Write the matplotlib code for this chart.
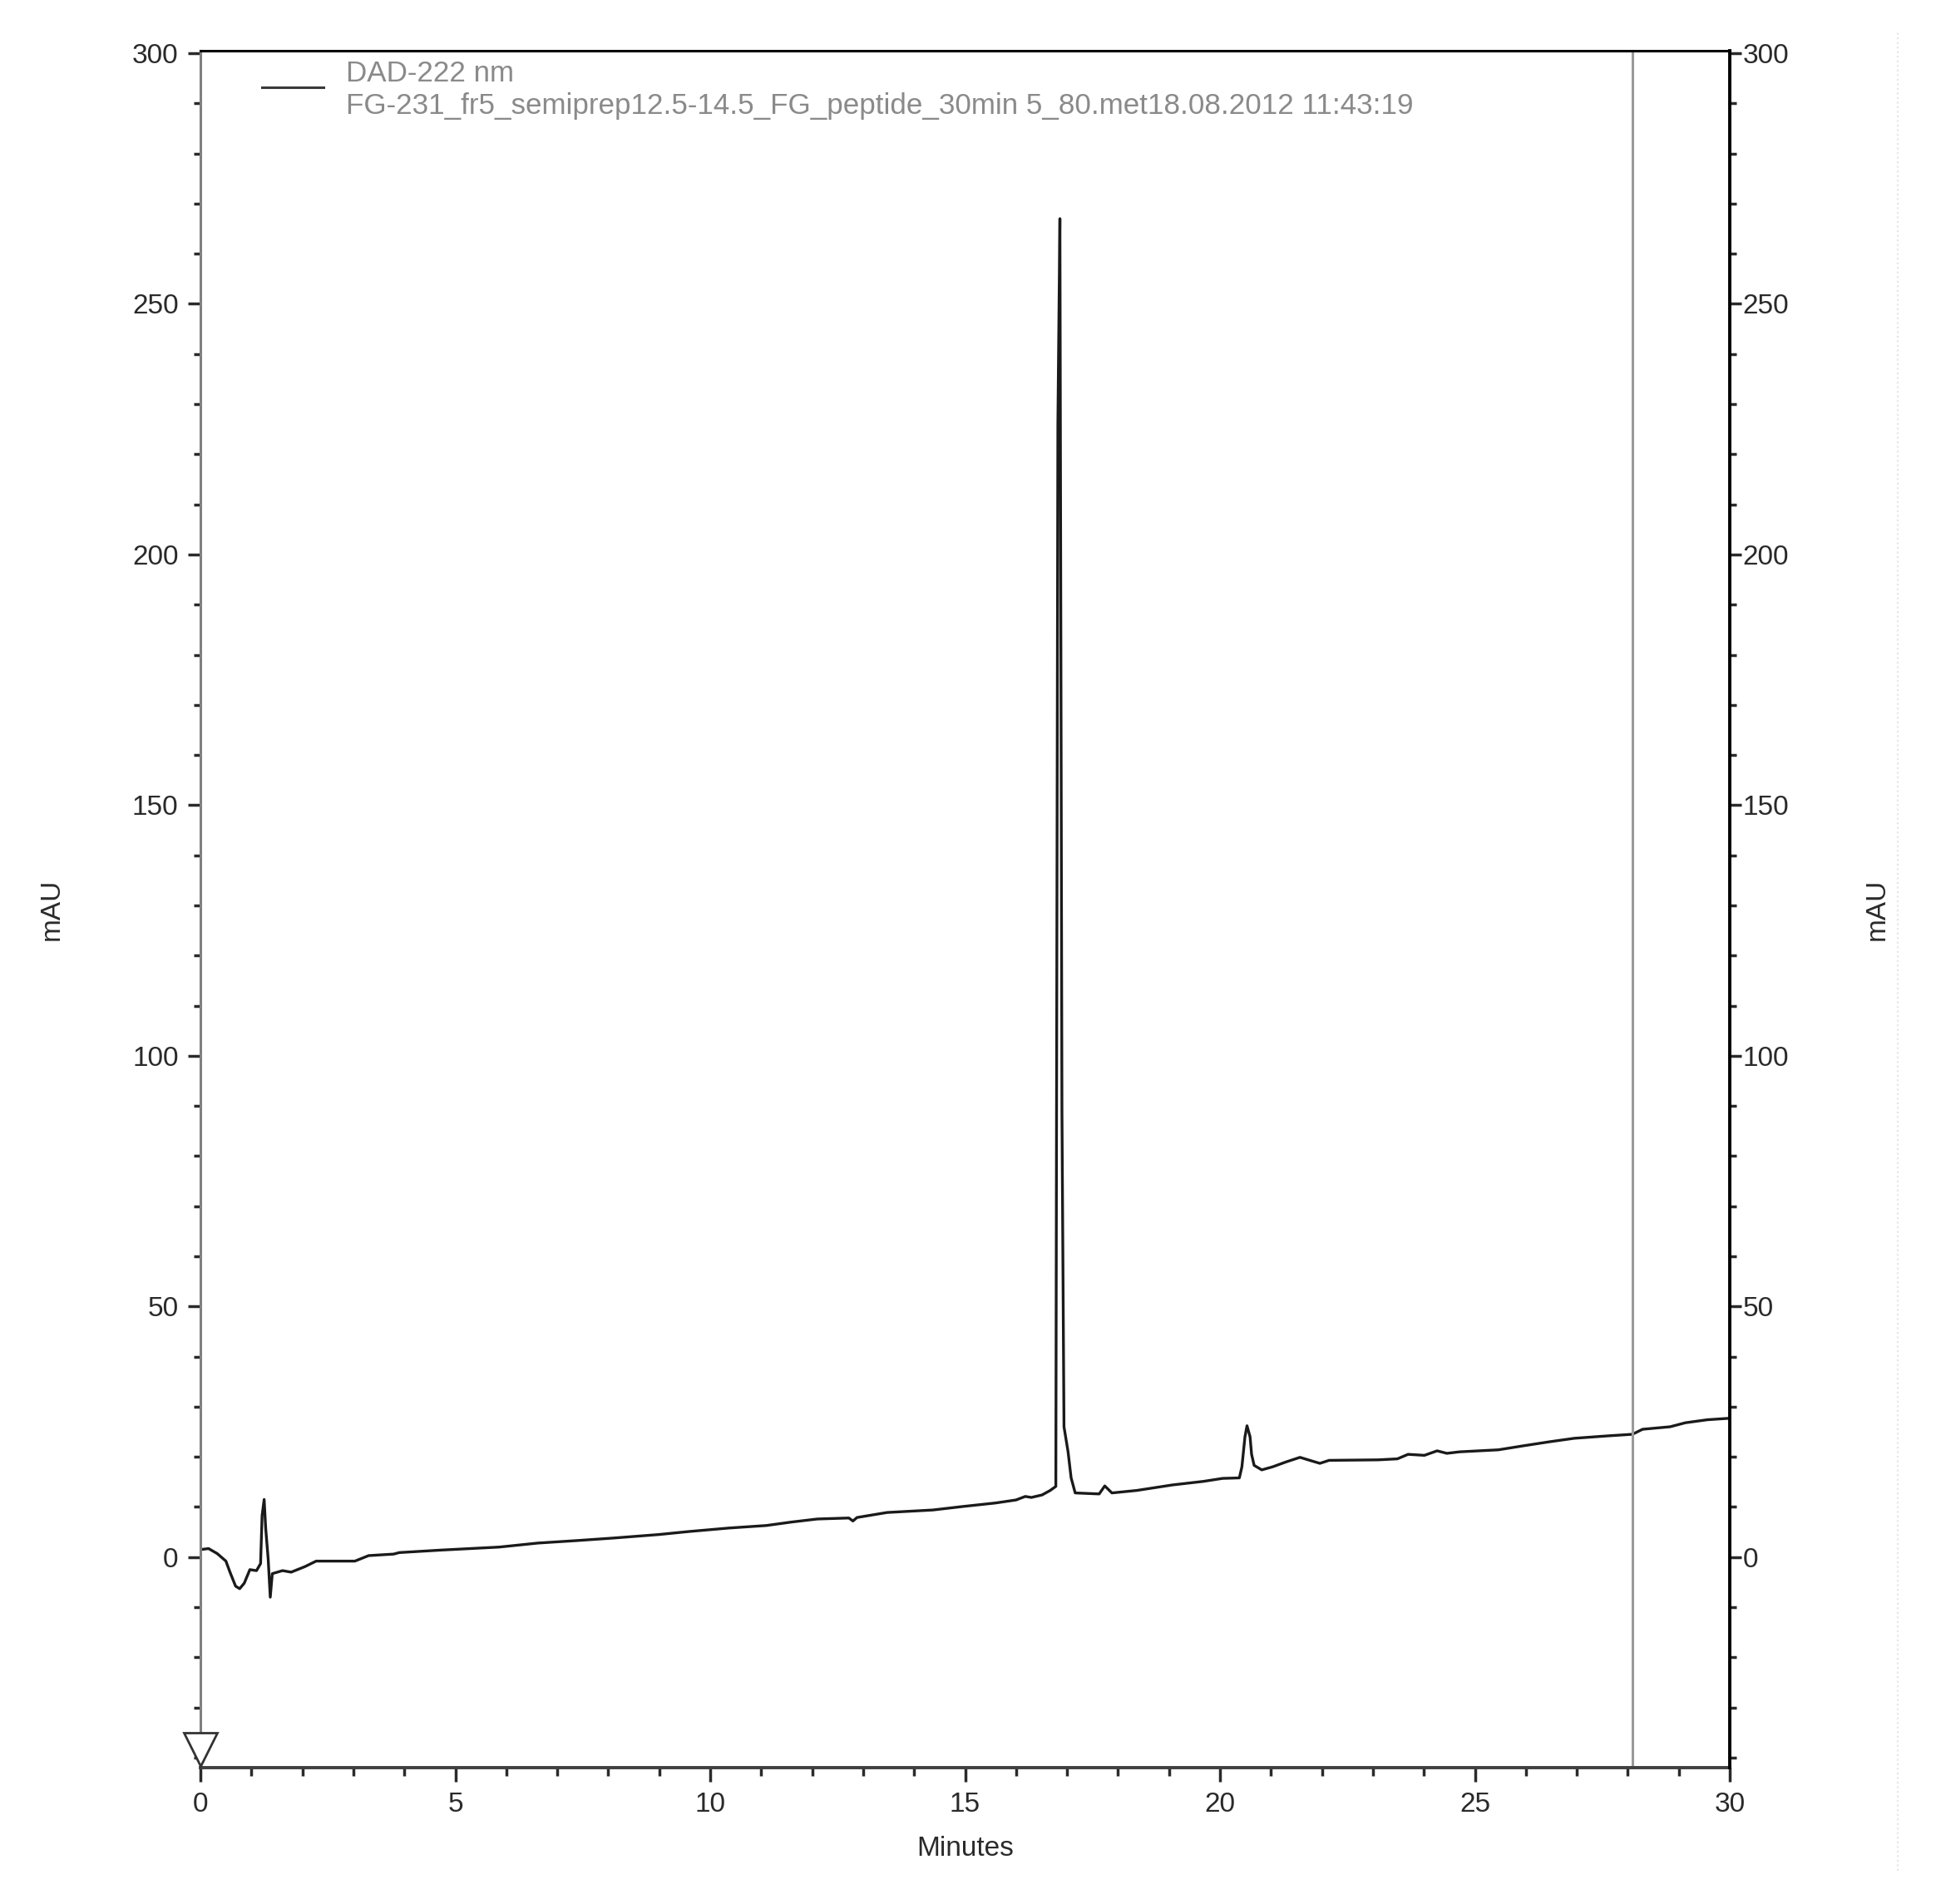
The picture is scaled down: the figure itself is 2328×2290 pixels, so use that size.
import matplotlib.pyplot as plt
from matplotlib.ticker import MultipleLocator
from matplotlib.lines import Line2D

plt.rcParams['font.family'] = ['Liberation Sans', 'DejaVu Sans']

# chromatogram trace (minutes, mAU)
time = [0.0, 0.16, 0.33, 0.5, 0.58, 0.69, 0.77, 0.86, 0.97, 1.1, 1.18,
        1.21, 1.25, 1.28, 1.33, 1.37, 1.41, 1.61, 1.78, 2.05, 2.27, 3.03,
        3.3, 3.79, 3.9, 4.72, 5.86, 6.62, 7.39, 8.1, 8.99, 9.58, 10.37,
        11.1, 11.6, 12.1, 12.72, 12.8, 12.88, 13.47, 14.37, 14.96, 15.6,
        16.0, 16.18, 16.3, 16.51, 16.67, 16.78, 16.82, 16.86, 16.9, 16.94,
        17.02, 17.08, 17.16, 17.63, 17.74, 17.88, 18.37, 19.07, 19.67,
        20.05, 20.38, 20.43, 20.49, 20.53, 20.59, 20.62, 20.67, 20.82,
        21.03, 21.3, 21.57, 21.73, 21.96, 22.14, 23.1, 23.48, 23.69, 24.01,
        24.26, 24.45, 24.7, 25.46, 25.95, 26.46, 26.95, 27.63, 28.09,
        28.29, 28.83, 29.13, 29.56, 30.0]
signal = [1.5, 1.7, 0.7, -0.8, -3.0, -5.8, -6.3, -5.2, -2.5, -2.7, -1.3,
          8.3, 11.5, 5.8, -0.5, -8.0, -3.3, -2.7, -3.0, -1.9, -0.8, -0.8,
          0.3, 0.6, 0.9, 1.4, 2.0, 2.8, 3.3, 3.8, 4.5, 5.1, 5.8,
          6.3, 7.0, 7.6, 7.8, 7.2, 7.9, 8.9, 9.4, 10.1, 10.8,
          11.4, 12.1, 11.9, 12.4, 13.3, 14.1, 226.0, 267.0, 89.0, 26.0,
          21.0, 15.8, 12.8, 12.6, 14.2, 12.8, 13.3, 14.4, 15.1,
          15.7, 15.8, 18.0, 24.0, 26.2, 24.0, 20.5, 18.3, 17.4,
          18.0, 19.0, 19.9, 19.4, 18.7, 19.3, 19.4, 19.6, 20.5, 20.3,
          21.2, 20.7, 21.0, 21.4, 22.2, 23.0, 23.7, 24.2, 24.5,
          25.5, 26.0, 26.8, 27.4, 27.7]

cursor_time = 28.09
legend_lines = ['DAD-222 nm',
                'FG-231_fr5_semiprep12.5-14.5_FG_peptide_30min 5_80.met18.08.2012 11:43:19']

W, H = 2328, 2290
fig = plt.figure(figsize=(W / 100, H / 100), dpi=100)
ax = fig.add_axes([241 / W, 1 - 2126 / H, 1839 / W, 2065 / H])

ax.plot(time, signal, color='#1a1a1a', lw=2.4)
ax.axvline(cursor_time, color='#9a9a9a', lw=2.2)
ax.plot([0], [-38.4], marker='v', ms=29, mfc='white', mec='#333333',
        mew=2, clip_on=False, zorder=5)

ax.set_xlim(0, 30)
ax.set_ylim(-42, 300.5)

ax.xaxis.set_major_locator(MultipleLocator(5))
ax.xaxis.set_minor_locator(MultipleLocator(1))
ax.yaxis.set_major_locator(MultipleLocator(50))
ax.yaxis.set_minor_locator(MultipleLocator(10))

tick_col = '#2a2a2a'
ax.tick_params(which='both', direction='out', labelsize=24,
               labelcolor=tick_col, color=tick_col, width=2.5,
               top=False, right=False)
ax.tick_params(axis='y', which='major', length=11, pad=8)
ax.tick_params(axis='y', which='minor', length=6)
ax.tick_params(axis='x', which='major', length=12, pad=9)
ax.tick_params(axis='x', which='minor', length=7)

ax2 = ax.twinx()
ax2.set_ylim(ax.get_ylim())
ax2.yaxis.set_major_locator(MultipleLocator(50))
ax2.yaxis.set_minor_locator(MultipleLocator(10))
ax2.tick_params(which='both', direction='out', labelsize=24,
                labelcolor=tick_col, color=tick_col, width=2.5)
ax2.tick_params(which='major', length=10, pad=1)
ax2.tick_params(which='minor', length=6)

ax.spines['left'].set_color('#808080')
ax.spines['left'].set_linewidth(2.2)
ax.spines['bottom'].set_color('#404040')
ax.spines['bottom'].set_linewidth(2.8)
ax.spines['top'].set_color('black')
ax.spines['top'].set_linewidth(2.2)
ax.spines['right'].set_visible(False)
for s in ['left', 'top', 'bottom']:
    ax2.spines[s].set_visible(False)
ax2.spines['right'].set_color('black')
ax2.spines['right'].set_linewidth(2.8)

ax.text(-0.0973, 0.5, 'mAU', transform=ax.transAxes, rotation=90,
        ha='center', va='center', fontsize=24, color=tick_col)
ax.text(1.0963, 0.5, 'mAU', transform=ax.transAxes, rotation=90,
        ha='center', va='center', fontsize=24, color=tick_col)
ax.text(0.5, -0.047, 'Minutes', transform=ax.transAxes,
        ha='center', va='center', fontsize=24, color=tick_col)

# legend, drawn by hand like the instrument software does
ax.plot([0.0402, 0.0805], [0.9787, 0.9787], transform=ax.transAxes,
        color='#3a3a3a', lw=2.2)
ax.text(0.0952, 0.9865, legend_lines[0], transform=ax.transAxes,
        ha='left', va='center', fontsize=25.2, color='#8a8a8a')
ax.text(0.0952, 0.9680, legend_lines[1], transform=ax.transAxes,
        ha='left', va='center', fontsize=25.2, color='#8a8a8a')

# faint dotted edge on the far right of the screenshot
fig.add_artist(Line2D([2282 / W, 2282 / W], [1 - 2250 / H, 1 - 37 / H],
                      color='#e4e4e4', lw=1.5, ls=':'))

fig.savefig('out.png', dpi=100, facecolor='white')
